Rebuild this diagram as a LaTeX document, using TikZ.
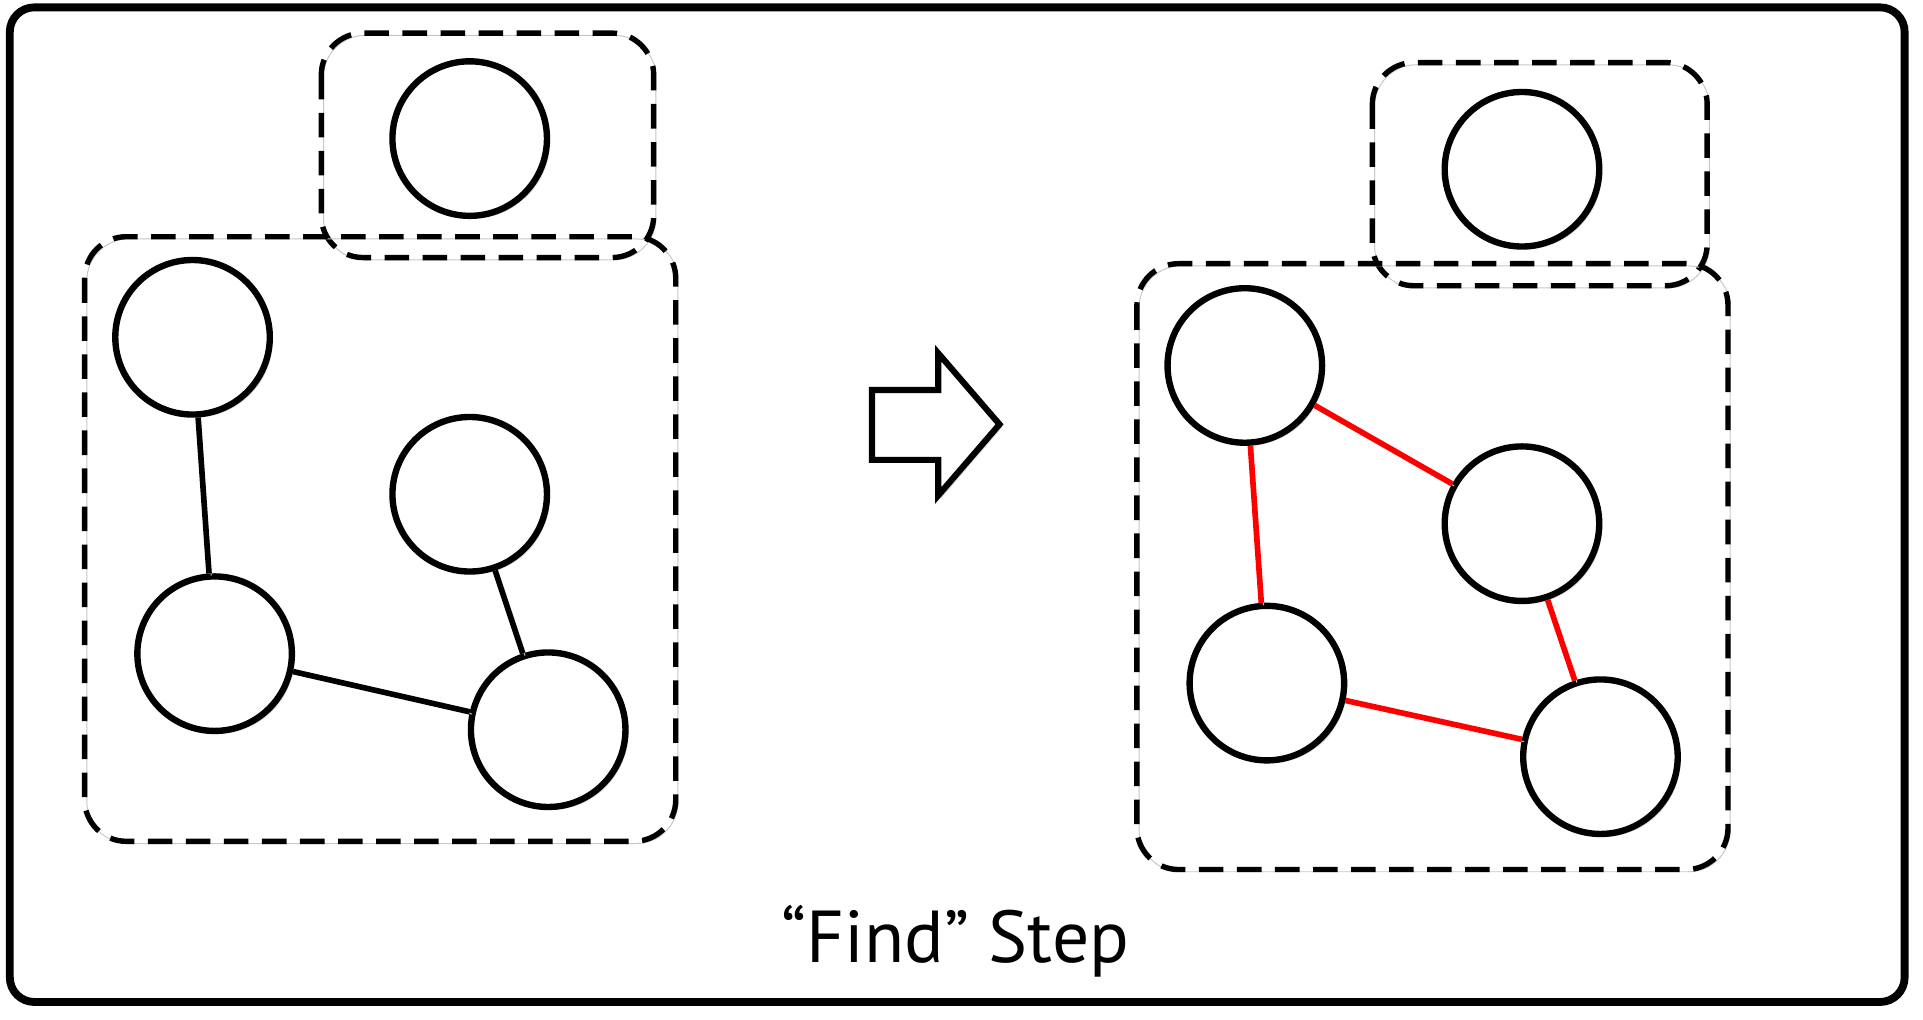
\documentclass[tikz,border=0pt]{standalone}
\usepackage{fontspec}
\setmainfont{PT Sans}
\usetikzlibrary{shadows}

\tikzset{
  softshade/.style={preaction={draw, black!22, transform canvas={shift={(0.9pt,-0.9pt)}}}},
  frame/.style={draw, line width=3.2pt, rounded corners=10pt, fill=white,
    drop shadow={opacity=0.3, shadow xshift=1pt, shadow yshift=-1pt}},
  vertex/.style={circle, draw, line width=2.6pt, fill=white, minimum size=63pt, inner sep=0pt,
    drop shadow={opacity=0.3, shadow xshift=1.2pt, shadow yshift=-1.2pt}},
  group/.style={draw, line width=2.2pt, dash pattern=on 10pt off 5.5pt, rounded corners=17pt, softshade},
  link/.style={line width=2.3pt, softshade},
  found/.style={link, red},
  blockarrow/.style={draw, line width=2.5pt, fill=white,
    drop shadow={opacity=0.3, shadow xshift=1.2pt, shadow yshift=-1.2pt}},
}

\begin{document}
\begin{tikzpicture}[x=0.5pt, y=-0.5pt]
  \useasboundingbox (0,0) rectangle (1568,831);
  \draw[frame] (8,6) rectangle (1553,817);

  % before
  \draw[group] (262,27) rectangle (533,210);
  \draw[group] (69,193) rectangle (551,686);
  \node[vertex] (ltop) at (383,113) {};
  \node[vertex] (la) at (157,275) {};
  \node[vertex] (lb) at (383,403) {};
  \node[vertex] (lc) at (175,533) {};
  \node[vertex] (ld) at (447,595) {};
  \draw[link] (la) -- (lc);
  \draw[link] (lb) -- (ld);
  \draw[link] (lc) -- (ld);

  \draw[blockarrow] (711,318) -- (765,318) -- (765,288) -- (815,346)
    -- (765,404) -- (765,375) -- (711,375) -- cycle;

  % after
  \draw[group] (1119,51) rectangle (1392,233);
  \draw[group] (927,215) rectangle (1409,709);
  \node[vertex] (rtop) at (1241,138) {};
  \node[vertex] (ra) at (1015,298) {};
  \node[vertex] (rb) at (1241,427) {};
  \node[vertex] (rc) at (1033,557) {};
  \node[vertex] (rd) at (1305,617) {};
  \draw[found] (ra) -- (rb);
  \draw[found] (ra) -- (rc);
  \draw[found] (rb) -- (rd);
  \draw[found] (rc) -- (rd);

  \node[anchor=base, font=\fontsize{30}{36}\selectfont] (caption) at (779,785) {“Find” Step};
\end{tikzpicture}
\end{document}
